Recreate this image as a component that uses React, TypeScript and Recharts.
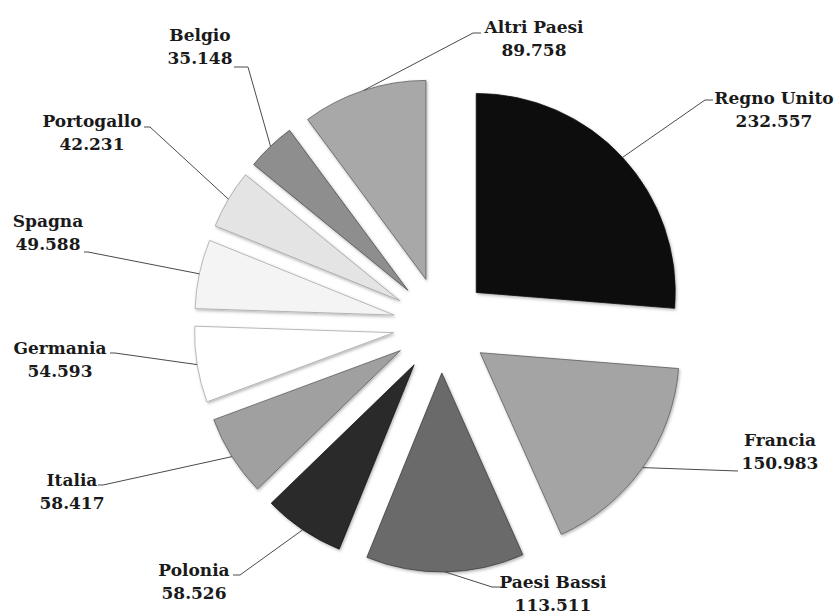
import { PieChart, Pie, Sector } from "recharts";

const countries = [
  "Regno Unito",
  "Francia",
  "Paesi Bassi",
  "Polonia",
  "Italia",
  "Germania",
  "Spagna",
  "Portogallo",
  "Belgio",
  "Altri Paesi",
];
const values = [232557, 150983, 113511, 58526, 58417, 54593, 49588, 42231, 35148, 89758];
const colors = [
  "#101010",
  "#a4a4a4",
  "#6a6a6a",
  "#2a2a2a",
  "#a0a0a0",
  "#ffffff",
  "#f4f4f4",
  "#e4e4e4",
  "#8e8e8e",
  "#a8a8a8",
];
const strokes = [
  "#101010",
  "#5e5e5e",
  "#3c3c3c",
  "#141414",
  "#5e5e5e",
  "#a8a8a8",
  "#a8a8a8",
  "#a0a0a0",
  "#4c4c4c",
  "#5e5e5e",
];

const data = countries.map((name, i) => ({ name, value: values[i] }));

const EXPLODE = 48;
const RAD = Math.PI / 180;

// label boxes: text centre x, first line centre y, leader elbow and end
const labelLayout = [
  { x: 774, y: 98, elbow: [705, 100], end: [713, 100] },
  { x: 780, y: 440, elbow: [738, 471], end: [738, 471] },
  { x: 553, y: 582, elbow: [492, 587], end: [503, 587] },
  { x: 194, y: 570, elbow: [240, 575], end: [233, 575] },
  { x: 72, y: 480, elbow: [103, 485], end: [98, 485] },
  { x: 60, y: 348, elbow: [115, 353], end: [110, 353] },
  { x: 48, y: 221, elbow: [88, 252], end: [84, 252] },
  { x: 92, y: 121, elbow: [150, 127], end: [144, 127] },
  { x: 200, y: 35, elbow: [248, 67], end: [234, 67] },
  { x: 534, y: 27, elbow: [473, 33], end: [481, 33] },
];

const fmt = (v: number) => String(v).replace(/\B(?=(\d{3})+(?!\d))/g, ".");

function ExplodedSlice(props: any) {
  const { cx, cy, midAngle, outerRadius, startAngle, endAngle, index } = props;
  const cos = Math.cos(-midAngle * RAD);
  const sin = Math.sin(-midAngle * RAD);
  const ox = cx + EXPLODE * cos;
  const oy = cy + EXPLODE * sin;
  const sx = ox + outerRadius * cos;
  const sy = oy + outerRadius * sin;
  const l = labelLayout[index];
  return (
    <g>
      <Sector
        cx={ox}
        cy={oy}
        innerRadius={0}
        outerRadius={outerRadius}
        startAngle={startAngle}
        endAngle={endAngle}
        fill={colors[index]}
        stroke={strokes[index]}
        strokeWidth={0.8}
        filter="url(#soft)"
      />
      <polyline
        points={`${sx},${sy} ${l.elbow[0]},${l.elbow[1]} ${l.end[0]},${l.end[1]}`}
        fill="none"
        stroke="#4a4a4a"
        strokeWidth={1}
      />
      <text x={l.x} y={l.y} textAnchor="middle" dominantBaseline="central" style={labelText}>
        {countries[index]}
      </text>
      <text x={l.x} y={l.y + 23} textAnchor="middle" dominantBaseline="central" style={labelText}>
        {fmt(values[index])}
      </text>
    </g>
  );
}

const labelText = {
  fontFamily: "'DejaVu Serif', serif",
  fontWeight: 700,
  fontSize: 17,
  fill: "#1a1a1a",
};

export default function App() {
  return (
    <div style={{ position: "absolute", left: 0, top: 0, background: "#fff" }}>
      <PieChart width={837} height={612}>
        <defs>
          <filter id="soft" x="-20%" y="-20%" width="140%" height="140%">
            <feDropShadow dx={1} dy={1.5} stdDeviation={1.5} floodColor="#000" floodOpacity={0.3} />
          </filter>
        </defs>
        <Pie
          data={data}
          dataKey="value"
          nameKey="name"
          cx={436}
          cy={320}
          outerRadius={199}
          startAngle={90}
          endAngle={-270}
          fill="transparent"
          stroke="none"
          label={ExplodedSlice}
          labelLine={false}
          isAnimationActive={false}
        />
      </PieChart>
    </div>
  );
}
